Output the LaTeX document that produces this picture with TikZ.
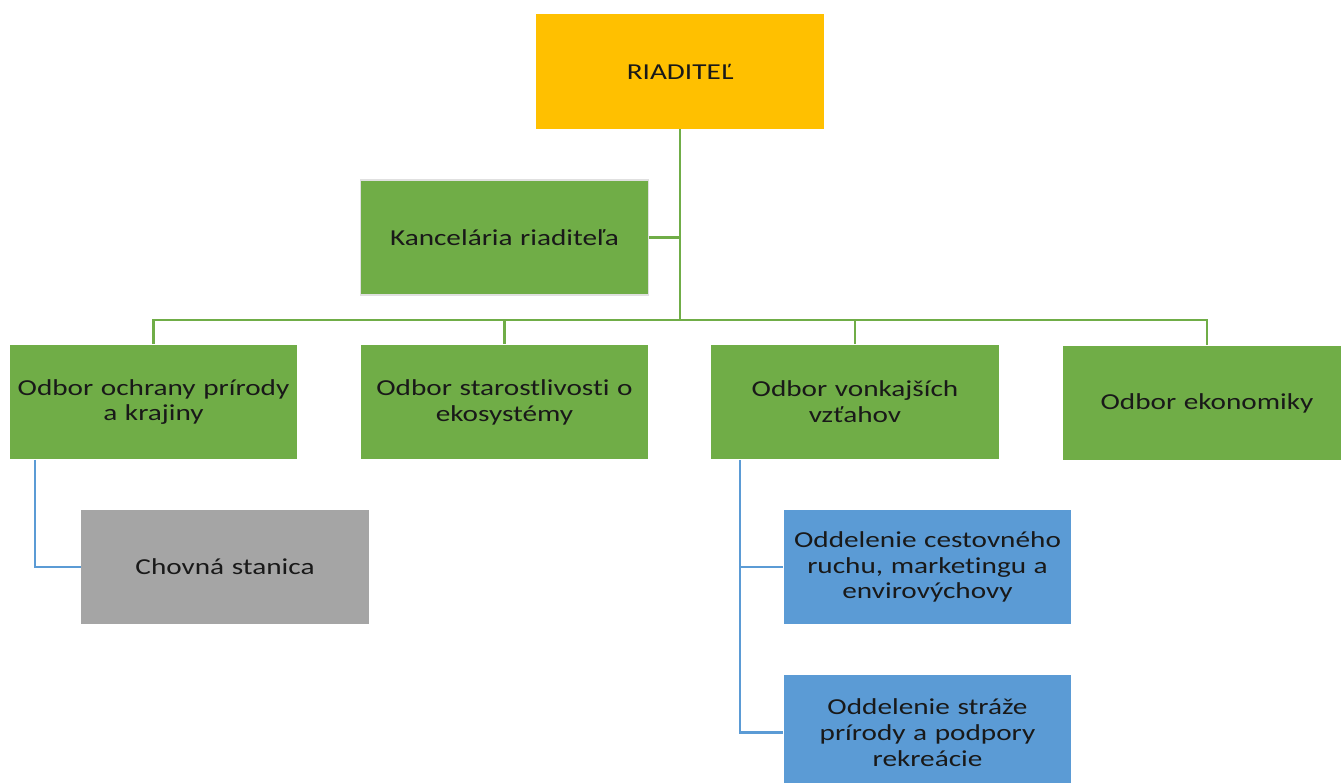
\documentclass[tikz,border=0pt]{standalone}
\usepackage{fontspec}
\setmainfont[FakeStretch=1.28, Ligatures=NoCommon]{Carlito}
\definecolor{zlta}{HTML}{FFC000}
\definecolor{zelena}{HTML}{70AD47}
\definecolor{siva}{HTML}{A5A5A5}
\definecolor{modra}{HTML}{5B9BD5}
\begin{document}
\begin{tikzpicture}[x=0.02cm, y=-0.02cm,
    box/.style={minimum width=5.76cm, minimum height=2.3cm, text width=5.5cm,
        align=center, inner sep=0pt, text=black!90,
        font=\fontsize{13}{14.7}\selectfont},
    linka/.style={draw=zelena, line width=1.5pt},
    podlinka/.style={draw=modra, line width=1.2pt}]
    \clip (0,0) rectangle (1341,783);

    % Riaditel (Yellow)
    \node[box, fill=zlta] (riaditel) at (680,71.5) {RIADITEĽ};

    % Kancelaria (Green)
    \node[box, fill=zelena, draw=black!12, line width=1pt] (kancelaria) at (504.5,237.5)
        {Kancelária riaditeľa};

    % Odbory (Green)
    \node[box, fill=zelena] (ochrana) at (153.5,402) {Odbor ochrany prírody\\a krajiny};
    \node[box, fill=zelena] (starostlivost) at (504.5,402) {Odbor starostlivosti o\\ekosystémy};
    \node[box, fill=zelena] (vonkajsie) at (855,402) {Odbor vonkajších\\vzťahov};
    \node[box, fill=zelena] (ekonomika) at (1207,403) {Odbor ekonomiky};

    % Oddelenia (Gray, Blue)
    \node[box, fill=siva] (chovna) at (225,567) {Chovná stanica};
    \node[box, fill=modra] (cestovny) at (927.5,567)
        {Oddelenie cestovného\\ruchu, marketingu a\\envirovýchovy};
    \node[box, fill=modra] (straz) at (927.5,732.5)
        {Oddelenie stráže\\prírody a podpory\\rekreácie};

    % Spojnice
    \coordinate (hub) at (680,320);
    \draw[linka] (riaditel.south) -- (hub);
    \draw[linka] (kancelaria.east) -- (riaditel.south |- kancelaria.east);
    \draw[linka] (ochrana.north) |- (hub);
    \draw[linka] (ekonomika.north) |- (hub);
    \draw[linka] (starostlivost.north) -- (starostlivost.north |- hub);
    \draw[linka] (vonkajsie.north) -- (vonkajsie.north |- hub);

    \draw[podlinka] ([xshift=0.52cm]ochrana.south west) |- (chovna.west);
    \draw[podlinka] ([xshift=0.58cm]vonkajsie.south west) |- (straz.west);
    \draw[podlinka] ([xshift=0.58cm]vonkajsie.south west |- cestovny.west) -- (cestovny.west);
\end{tikzpicture}
\end{document}
